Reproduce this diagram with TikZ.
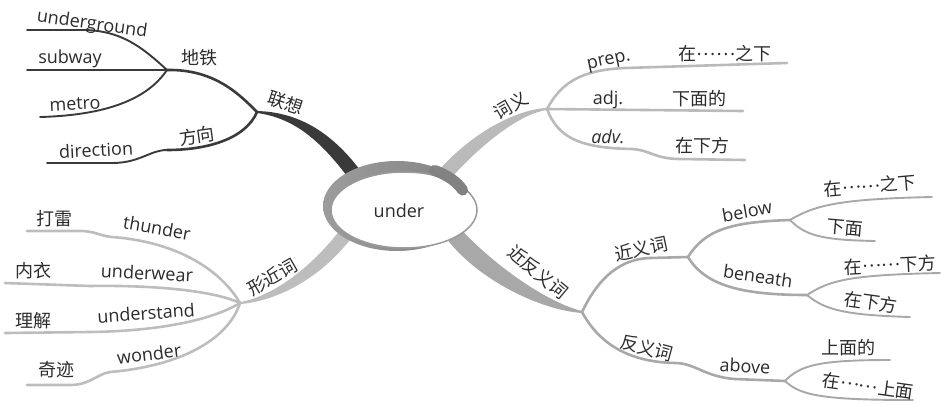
\documentclass[tikz,border=0pt]{standalone}
\usepackage{fontspec}
\setmainfont{Open Sans}
\newfontfamily\cjk{Noto Sans CJK SC}
\newcommand{\mydots}{\raisebox{0.3em}{……}}
\definecolor{txt}{HTML}{2B2B2B}
\definecolor{cDark}{HTML}{3A3A3A}
\definecolor{cLight}{HTML}{BABABA}
\definecolor{cLight2}{HTML}{BDBDBD}
\definecolor{cMid}{HTML}{A8A8A8}
\definecolor{ringL}{HTML}{9C9C9C}
\definecolor{ringR}{HTML}{828282}
\definecolor{ringEnd}{HTML}{828282}
\definecolor{rim}{HTML}{9A9A9A}
\begin{document}
\begin{tikzpicture}[x=1pt,y=-1pt,
  lbl/.style={text=txt, font=\fontsize{18}{18}\selectfont, inner sep=0pt},
  zh/.style={text=txt, font=\fontsize{18}{18}\selectfont\cjk, inner sep=0pt},
  lv1/.style={line width=2.6pt, line cap=round},
  lv2/.style={line width=1.9pt, line cap=round}]
\useasboundingbox (0,0) rectangle (941,402);

% ---------- coordinates ----------
\coordinate (jLX) at (257,112);
\coordinate (jDT) at (167,70);
\coordinate (jFX) at (167,150);
\coordinate (eUG) at (27,30);
\coordinate (eSW) at (27,70);
\coordinate (eMT) at (40,117);
\coordinate (eDR) at (47,163);

\coordinate (jCY) at (547,109);
\coordinate (ePR) at (787,63);
\coordinate (eAJ) at (743,111);
\coordinate (eAV) at (745,160);

\coordinate (jXJ) at (240,303);
\coordinate (eTH) at (27,231);
\coordinate (eUW) at (5,283);
\coordinate (eUS) at (5,333);
\coordinate (eWD) at (27,385);

\coordinate (jJF) at (582,312);
\coordinate (jJY) at (688,257);
\coordinate (jFY) at (785,381);
\coordinate (jBL) at (790,220);
\coordinate (jBN) at (807,295);
\coordinate (eB1) at (932,197);
\coordinate (eB2) at (875,241);
\coordinate (eN1) at (940,273);
\coordinate (eN2) at (910,317);
\coordinate (eA1) at (890,360);
\coordinate (eA2) at (913,400);

% ---------- main tapered branches ----------
\fill[cDark] (257,111) .. controls (296,112) and (330,130) .. (360.6,170.8) -- (349.4,179.2) .. controls (320,140) and (294,118) .. (257,113) -- cycle;
\fill[cLight] (547,108) .. controls (518,109) and (470,132) .. (432.7,177.4) -- (443.3,186.6) .. controls (482,142) and (522,113) .. (547,110) -- cycle;
\fill[cLight2] (240,302) .. controls (266,298) and (305,275) .. (339.5,230.7) -- (350.5,239.3) .. controls (315,284) and (270,302) .. (240,304) -- cycle;
\fill[cMid] (458,226) .. controls (490,262) and (545,302) .. (582,311) -- (582,313) .. controls (540,310) and (478,280) .. (446,238) -- cycle;

% ---------- 联想 ----------
\draw[cDark,lv1] (jLX) .. controls (240,95) and (215,69) .. (jDT);
\draw[cDark,lv1] (jLX) .. controls (245,140) and (205,150) .. (jFX);
\draw[cDark,lv2] (jDT) .. controls (140,45) and (120,31) .. (85,30) -- (eUG);
\draw[cDark,lv2] (jDT) -- (eSW);
\draw[cDark,lv2] (jDT) .. controls (150,95) and (115,115) .. (eMT);
\draw[cDark,lv2] (jFX) .. controls (150,150) and (140,163) .. (112,163) -- (eDR);

\node[lbl, rotate=-8] (tUG) at (92,25) {underground};
\node[lbl] (tSW) at (70,59) {subway};
\node[lbl, rotate=3] (tMT) at (75,104) {metro};
\node[lbl, rotate=3] (tDR) at (96,150) {direction};
\node[zh] (tDT) at (199,58) {地铁};
\node[zh, rotate=-18] (tLX) at (286,103) {联想};
\node[zh, rotate=8] (tFX) at (197,136) {方向};

% ---------- 词义 ----------
\draw[cLight,lv1] (jCY) .. controls (560,85) and (578,70) .. (625,68) -- (ePR);
\draw[cLight,lv1] (jCY) -- (eAJ);
\draw[cLight,lv1] (jCY) .. controls (558,138) and (580,148) .. (632,149) .. controls (650,150) and (655,159) .. (680,159) -- (eAV);

\node[zh, rotate=30] (tCY) at (511,106) {词义};
\node[lbl, rotate=12] (tPR) at (609,62) {prep.};
\node[zh] (tPRz) at (725,54) {在\mydots 之下};
\node[lbl] (tAJ) at (608,100) {adj.};
\node[zh] (tAJz) at (699,99) {下面的};
\node[lbl] (tAV) at (608,137) {\itshape adv.};
\node[zh] (tAVz) at (702,146) {在下方};

% ---------- 形近词 ----------
\draw[cLight2,lv1] (jXJ) .. controls (222,272) and (180,242) .. (112,237) .. controls (100,236) and (95,231) .. (80,231) -- (eTH);
\draw[cLight2,lv1] (jXJ) .. controls (212,290) and (150,285) .. (90,286) -- (eUW);
\draw[cLight2,lv1] (jXJ) .. controls (212,320) and (160,331) .. (90,332) -- (eUS);
\draw[cLight2,lv1] (jXJ) .. controls (228,340) and (180,366) .. (110,372) .. controls (97,374) and (90,385) .. (70,385) -- (eWD);

\node[zh, rotate=30] (tXJ) at (272,277) {形近词};
\node[zh] (tTHz) at (54,219) {打雷};
\node[lbl, rotate=-10] (tTH) at (157,228) {thunder};
\node[zh] (tUWz) at (34,271) {内衣};
\node[lbl, rotate=-3] (tUW) at (147,273) {underwear};
\node[zh] (tUSz) at (33,321) {理解};
\node[lbl, rotate=4] (tUS) at (146,313) {understand};
\node[zh] (tWDz) at (56,370) {奇迹};
\node[lbl, rotate=7] (tWD) at (149,354) {wonder};

% ---------- 近反义词 ----------
\draw[cMid,lv1] (jJF) .. controls (595,285) and (615,259) .. (650,258) -- (jJY);
\draw[cMid,lv1] (jJF) .. controls (600,345) and (630,362) .. (675,363) .. controls (695,363) and (705,377) .. (735,379) -- (jFY);
\draw[cMid,lv1] (jJY) .. controls (705,230) and (730,222) .. (jBL);
\draw[cMid,lv1] (jJY) .. controls (705,285) and (740,295) .. (jBN);
\draw[cMid,lv2] (jBL) .. controls (815,205) and (840,199) .. (eB1);
\draw[cMid,lv2] (jBL) .. controls (805,235) and (820,240) .. (eB2);
\draw[cMid,lv2] (jBN) .. controls (830,280) and (850,275) .. (eN1);
\draw[cMid,lv2] (jBN) .. controls (825,310) and (845,315) .. (eN2);
\draw[cMid,lv2] (jFY) .. controls (800,365) and (820,360) .. (eA1);
\draw[cMid,lv2] (jFY) .. controls (800,395) and (820,400) .. (eA2);

\node[zh, rotate=-40] (tJF) at (538,272) {近反义词};
\node[zh, rotate=12] (tJY) at (641,249) {近义词};
\node[lbl, rotate=10] (tBL) at (747,211) {below};
\node[zh, rotate=5] (tB1) at (870,186) {在\mydots 之下};
\node[zh, rotate=-5] (tB2) at (845,228) {下面};
\node[lbl, rotate=-8] (tBN) at (758,276) {beneath};
\node[zh, rotate=3] (tN1) at (890,265) {在\mydots 下方};
\node[zh, rotate=-8] (tN2) at (871,302) {在下方};
\node[zh, rotate=-15] (tFY) at (647,348) {反义词};
\node[lbl, rotate=-3] (tAB) at (745,366) {above};
\node[zh] (tA1) at (848,348) {上面的};
\node[zh, rotate=-8] (tA2) at (868,386) {在\mydots 上面};

% ---------- centre ----------
\shade[left color=ringL, right color=ringR] (397,206) ellipse [x radius=74pt, y radius=45pt];
\draw[fill=white, draw=rim, line width=1.5pt] (404,210) ellipse [x radius=73pt, y radius=38pt];
\draw[ringEnd, line width=11pt, line cap=round] (434.4,170.4) arc[start angle=60, end angle=22, x radius=66pt, y radius=40pt];
\node[lbl] (ctr) at (399,211) {under};
\end{tikzpicture}
\end{document}
